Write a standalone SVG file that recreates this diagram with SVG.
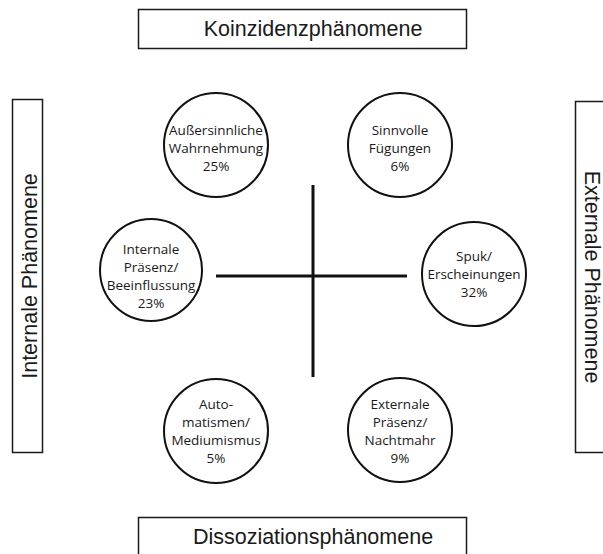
<svg xmlns="http://www.w3.org/2000/svg" width="603" height="554" viewBox="0 0 603 554">
<style>
.box{fill:#fff;stroke:#1a1a1a;stroke-width:1.5}
.title{font-family:"Liberation Sans",Arial,sans-serif;font-size:21.5px;fill:#1a1a1a;text-anchor:middle}
.circ{fill:#fff;stroke:#111;stroke-width:2}
.lbl{font-family:"Open Sans","Noto Sans",sans-serif;font-size:13.5px;fill:#1a1a1a;text-anchor:middle}
.axis{stroke:#111;stroke-width:3;fill:none}
</style>
<rect width="603" height="554" fill="#fff"/>
<g id="top">
<rect class="box" x="138.5" y="9.5" width="328" height="39"/>
<text class="title" x="313" y="36">Koinzidenzphänomene</text>
</g>
<g id="bottom">
<rect class="box" x="138.5" y="517.5" width="328" height="45"/>
<text class="title" x="313" y="544">Dissoziationsphänomene</text>
</g>
<g id="left">
<rect class="box" x="12.5" y="99.5" width="30" height="353"/>
<text class="title" transform="translate(37,276) rotate(-90)" x="0" y="0">Internale Phänomene</text>
</g>
<g id="right">
<rect class="box" x="575.5" y="101.5" width="40" height="351"/>
<text class="title" transform="translate(585,277) rotate(90)" x="0" y="0">Externale Phänomene</text>
</g>
<g id="connectors">
<line class="axis" x1="313" y1="185" x2="313" y2="377"/>
<line class="axis" x1="216" y1="276" x2="407" y2="276"/>
</g>
<g id="n1">
<circle class="circ" cx="216" cy="145" r="52"/>
<text class="lbl" x="216" y="135">Außersinnliche</text>
<text class="lbl" x="216" y="153">Wahrnehmung</text>
<text class="lbl" x="216" y="171">25%</text>
</g>
<g id="n2">
<circle class="circ" cx="400" cy="145" r="52"/>
<text class="lbl" x="400" y="135">Sinnvolle</text>
<text class="lbl" x="400" y="153">Fügungen</text>
<text class="lbl" x="400" y="171">6%</text>
</g>
<g id="n3">
<circle class="circ" cx="151" cy="270" r="51"/>
<text class="lbl" x="151" y="254">Internale</text>
<text class="lbl" x="151" y="272">Präsenz/</text>
<text class="lbl" x="151" y="290">Beeinflussung</text>
<text class="lbl" x="151" y="308">23%</text>
</g>
<g id="n4">
<circle class="circ" cx="474" cy="274" r="52"/>
<text class="lbl" x="474" y="261">Spuk/</text>
<text class="lbl" x="474" y="279">Erscheinungen</text>
<text class="lbl" x="474" y="297">32%</text>
</g>
<g id="n5">
<circle class="circ" cx="216" cy="431" r="52"/>
<text class="lbl" x="216" y="409">Auto-</text>
<text class="lbl" x="216" y="427">matismen/</text>
<text class="lbl" x="216" y="445">Mediumismus</text>
<text class="lbl" x="216" y="463">5%</text>
</g>
<g id="n6">
<circle class="circ" cx="400" cy="430" r="52"/>
<text class="lbl" x="400" y="409">Externale</text>
<text class="lbl" x="400" y="427">Präsenz/</text>
<text class="lbl" x="400" y="445">Nachtmahr</text>
<text class="lbl" x="400" y="463">9%</text>
</g>
</svg>
